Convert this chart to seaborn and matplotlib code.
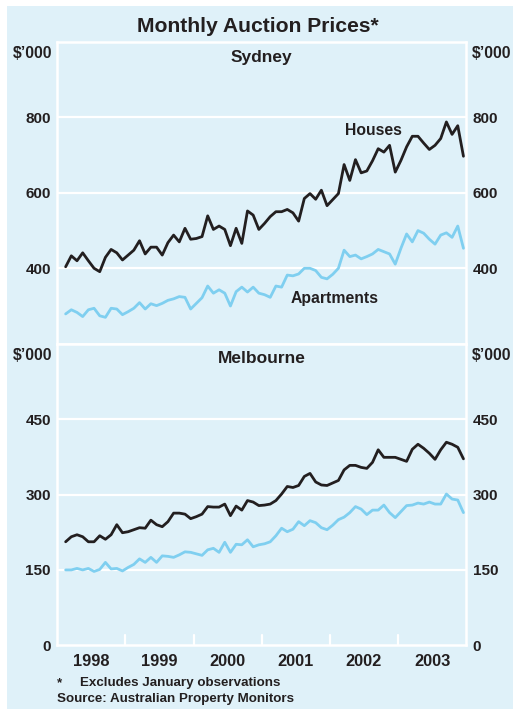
import numpy as np
import pandas as pd
import matplotlib
matplotlib.use('Agg')
import matplotlib.pyplot as plt
import seaborn as sns
from matplotlib.patches import Rectangle

# monthly auction prices, $'000, Feb 1998 - Dec 2003
dates = pd.date_range('1998-02-01', '2003-12-01', freq='MS')

syd_houses = [404, 433, 420, 441, 420, 400, 391, 429, 450, 441, 422,
              435, 448, 473, 438, 456, 456, 435, 468, 488, 470, 506,
              477, 479, 484, 539, 503, 512, 503, 460, 506, 466, 552,
              541, 503, 519, 537, 550, 550, 556, 547, 525, 585, 598,
              583, 607, 566, 582, 598, 675, 633, 688, 653, 658, 685,
              717, 708, 726, 655, 686, 722, 750, 750, 732, 715, 726,
              744, 788, 755, 778, 697]
syd_apts = [279, 290, 283, 272, 290, 294, 274, 270, 294, 292, 277,
            285, 294, 309, 292, 306, 301, 307, 315, 319, 325, 323,
            292, 307, 322, 353, 334, 343, 334, 300, 338, 350, 337,
            350, 334, 330, 323, 353, 350, 382, 380, 385, 400, 400,
            394, 376, 372, 384, 400, 448, 431, 435, 425, 431, 438,
            450, 444, 438, 411, 453, 491, 470, 500, 493, 477, 464,
            488, 494, 482, 512, 453]
mel_houses = [206, 216, 220, 216, 206, 206, 218, 211, 220, 240, 224,
              226, 230, 234, 233, 249, 240, 236, 246, 263, 263, 261,
              252, 256, 261, 276, 275, 275, 281, 258, 277, 269, 288,
              285, 278, 279, 281, 288, 301, 316, 314, 318, 336, 342,
              325, 319, 318, 323, 328, 349, 358, 358, 354, 352, 364,
              389, 374, 374, 374, 370, 366, 390, 400, 392, 382, 370,
              389, 404, 400, 394, 371]
mel_apts = [150, 150, 153, 150, 153, 147, 151, 165, 152, 153, 148,
            155, 161, 172, 165, 175, 165, 178, 177, 175, 180, 186,
            185, 182, 179, 190, 193, 185, 205, 185, 201, 200, 210,
            196, 200, 202, 206, 218, 233, 226, 231, 246, 238, 248,
            244, 234, 230, 239, 250, 255, 264, 276, 271, 260, 269,
            269, 279, 264, 254, 266, 278, 279, 283, 281, 285, 281,
            281, 301, 291, 289, 264]

years = [1998, 1999, 2000, 2001, 2002, 2003]
syd_ticks = [200, 400, 600, 800, 1000]
mel_ticks = [0, 150, 300, 450, 600]

# mid-month position on a decimal-year axis
x = dates.year + (dates.month - 0.5) / 12

bg = '#dff1f9'
ink = '#231f20'
houses_col = '#231f20'
apts_col = '#7fcff0'

sns.set_theme(style='white')
plt.rcParams['font.family'] = ['Liberation Sans', 'DejaVu Sans']
plt.rcParams['font.weight'] = 'bold'

fig = plt.figure(figsize=(5.15, 7.09), dpi=100, facecolor='white')
# light blue panel with a thin white margin at top and sides
fig.patches.append(Rectangle((7 / 515, 0), 506 / 515, 703 / 709,
                             transform=fig.transFigure, facecolor=bg,
                             edgecolor='none', zorder=-10))

ax1 = fig.add_axes([0.1109, 0.5152, 0.7945, 0.4256])
ax2 = fig.add_axes([0.1109, 0.0898, 0.7945, 0.4254])


def style_panel(ax, ticks, title):
    ax.set_facecolor(bg)
    ax.set_xlim(1998, 2004)
    ax.set_ylim(ticks[0], ticks[-1])
    for y in ticks[1:-1]:
        ax.axhline(y, color='white', lw=1.6, zorder=1)
    for s in ax.spines.values():
        s.set_color('white')
        s.set_linewidth(1.8)
    ax.set_yticks(ticks[1:-1])
    ax.tick_params(axis='y', length=0, labelsize=11, labelcolor=ink,
                   left=False, right=False, labelleft=True, labelright=True,
                   pad=4.5)
    ax.set_xticks([])
    ax.set_xlabel('')
    ax.set_ylabel('')
    ax.text(0.5, 0.95, title, transform=ax.transAxes, ha='center',
            va='center', fontsize=12.5, fontweight='bold', color=ink)
    for xpos, ha in [(-0.011, 'right'), (1.013, 'left')]:
        ax.text(xpos, 0.9625, "$\u2019000", transform=ax.transAxes, ha=ha,
                va='center', fontsize=11.3, fontweight='bold', color=ink)


sns.lineplot(x=x, y=syd_houses, ax=ax1, color=houses_col, lw=2.0, zorder=3)
sns.lineplot(x=x, y=syd_apts, ax=ax1, color=apts_col, lw=2.0, zorder=3)
style_panel(ax1, syd_ticks, 'Sydney')
ax1.text(2002.64, 765, 'Houses', ha='center', va='center', fontsize=11.3,
         fontweight='bold', color=ink)
ax1.text(2002.07, 321, 'Apartments', ha='center', va='center', fontsize=11.3,
         fontweight='bold', color=ink)

sns.lineplot(x=x, y=mel_houses, ax=ax2, color=houses_col, lw=2.0, zorder=3)
sns.lineplot(x=x, y=mel_apts, ax=ax2, color=apts_col, lw=2.0, zorder=3)
style_panel(ax2, mel_ticks, 'Melbourne')
ax2.set_yticks(mel_ticks[:-1])

# year boundary ticks and centred year labels
for yr in years[1:]:
    ax2.plot([yr, yr], [0, 20], color='white', lw=1.6, zorder=2)
for yr in years:
    ax2.text(yr + 0.5, -17, str(yr), ha='center', va='top', fontsize=11.8,
             fontweight='bold', color=ink)

fig.text(0.5, 0.963, 'Monthly Auction Prices*', ha='center', va='center',
         fontsize=15.2, fontweight='bold', color=ink)
fig.text(0.111, 0.0367, '*', ha='left', va='center', fontsize=9.6,
         fontweight='bold', color=ink)
fig.text(0.156, 0.0367, 'Excludes January observations', ha='left',
         va='center', fontsize=9.6, fontweight='bold', color=ink)
fig.text(0.111, 0.0141, 'Source: Australian Property Monitors', ha='left',
         va='center', fontsize=9.6, fontweight='bold', color=ink)

fig.savefig('out.png', dpi=100, facecolor='white')
